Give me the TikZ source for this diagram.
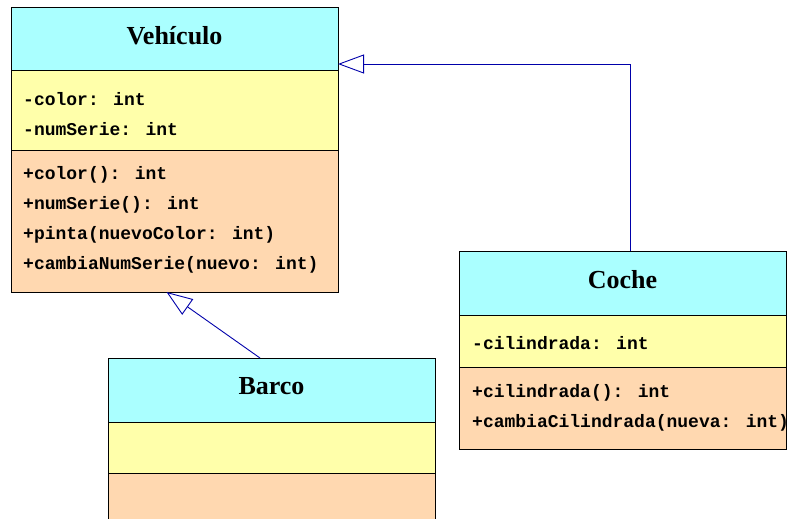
\documentclass[tikz,border=0pt]{standalone}
\usepackage{fontspec}
\setmainfont{Liberation Serif}
\newfontfamily\codefont{Liberation Mono}
\usetikzlibrary{positioning}
\usetikzlibrary{arrows.meta}
\definecolor{headcol}{RGB}{170,255,255}
\definecolor{attrcol}{RGB}{255,255,170}
\definecolor{opercol}{RGB}{255,216,176}
\definecolor{linkcol}{RGB}{0,0,170}
\tikzset{
    part/.style={draw, line width=1pt, outer sep=0pt, inner sep=0pt, minimum width=327pt},
    title/.style={anchor=base, inner sep=0pt, font=\fontsize{26}{30}\selectfont\bfseries},
    member/.style={anchor=base west, inner sep=0pt, font=\fontsize{18}{20}\selectfont\codefont\bfseries},
    herencia/.style={draw=linkcol, line width=.9pt, -{Triangle[open, length=26pt, width=19pt]}},
}

\begin{document}
\begin{tikzpicture}[x=1pt, y=-1pt]
    \useasboundingbox (0, 0) rectangle (787, 519);
    % Vehiculo
    \node[part, fill=headcol, minimum height=63pt] (vehhead) at (174.5, 39.5) {};
    \node[part, fill=attrcol, minimum height=79pt, below=0pt of vehhead] (vehattr) {};
    \node[part, fill=opercol, minimum height=142pt, below=0pt of vehattr] (vehop) {};
    \node[title] (vehname) at (174.5, 45) {Vehículo};
    \foreach \txt [count=\i] in {-color: int, -numSerie: int}
        \node[member] (vehattr\i) at (23, 75+30*\i) {\txt};
    \foreach \txt [count=\i] in {+color(): int, +numSerie(): int, +pinta(nuevoColor: int), +cambiaNumSerie(nuevo: int)}
        \node[member] (vehop\i) at (23, 149+30*\i) {\txt};
    % Coche
    \node[part, fill=headcol, minimum height=64pt] (cochehead) at (622.5, 283) {};
    \node[part, fill=attrcol, minimum height=52pt, below=0pt of cochehead] (cocheattr) {};
    \node[part, fill=opercol, minimum height=82pt, below=0pt of cocheattr] (cocheop) {};
    \node[title] (cochename) at (622.5, 288) {Coche};
    \node[member] (cocheattr1) at (472, 349) {-cilindrada: int};
    \foreach \txt [count=\i] in {+cilindrada(): int, +cambiaCilindrada(nueva: int)}
        \node[member] (cocheop\i) at (472, 367+30*\i) {\txt};
    % Barco
    \node[part, fill=headcol, minimum height=64pt] (barcohead) at (271.5, 390) {};
    \node[part, fill=attrcol, minimum height=51pt, below=0pt of barcohead] (barcoattr) {};
    \node[part, fill=opercol, minimum height=67pt, below=0pt of barcoattr] (barcoop) {};
    \node[title] (barconame) at (271.5, 394) {Barco};
    % herencia
    \draw[herencia] ([xshift=7.5pt]cochehead.north) |- ([yshift=-24.5pt]vehhead.east);
    \draw[herencia] ([xshift=-11.5pt]barcohead.north) -- ([xshift=-8pt]vehop.south);
\end{tikzpicture}
\end{document}
